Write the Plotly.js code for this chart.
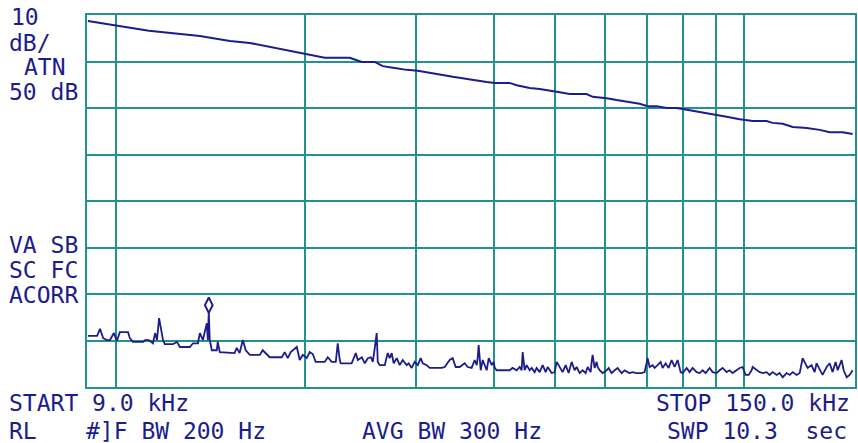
<!DOCTYPE html>
<html>
<head>
<meta charset="utf-8">
<script src="https://cdn.plot.ly/plotly-3.0.1.min.js"></script>
<style>
html,body{margin:0;padding:0;background:#ffffff;}
#chart{width:858px;height:443px;}
</style>
</head>
<body>
<div id="chart"></div>
<script>
// Frequency axis (kHz), log scale, gridlines every decade step
const startFreq = 9.0;
const stopFreq = 150.0;
const gridFreqs = [10, 20, 30, 40, 50, 60, 70, 80, 90, 100];

// Upper trace (dB, relative to top graticule line)
const upperFreq = [9.03, 9.44, 10.04, 11.29, 13.61, 15.19, 16.34, 18.17, 20.06, 20.58, 21.50, 23.56, 24.63, 25.83, 26.59, 27.78, 29.03, 30.23, 31.58, 33.12, 34.36, 36.17, 38.92, 40.08, 42.32, 43.43, 45.55, 47.25, 49.56, 50.84, 52.74, 56.12, 57.37, 60.39, 62.64, 65.69, 68.15, 70.17, 72.52, 75.23, 78.04, 79.77, 82.74, 85.84, 90.35, 93.72, 98.29, 103.1, 108.5, 110.9, 115.1, 119.4, 125.7, 131.8, 136.7, 143.4, 148.7];
const upperLevel = [-1.3, -1.7, -2.2, -3.4, -4.5, -5.6, -6.0, -7.3, -8.4, -8.8, -9.2, -9.2, -10.1, -10.1, -11.0, -11.4, -11.8, -12.0, -12.5, -12.9, -13.3, -13.8, -14.4, -14.6, -14.6, -15.1, -15.7, -15.9, -16.3, -16.6, -17.0, -17.0, -17.6, -17.9, -18.3, -18.7, -19.1, -19.6, -19.6, -20.0, -20.0, -20.2, -20.6, -21.1, -21.5, -21.9, -22.4, -22.8, -22.8, -23.2, -23.4, -24.1, -24.3, -24.7, -25.2, -25.2, -25.6];

// Lower (noise) trace
const lowerFreq = [9.03,9.34,9.44,9.55,9.68,9.79,9.93,10.04,10.15,10.46,10.53,10.65,11.06,11.13,11.29,11.46,11.55,11.63,11.72,11.80,11.89,11.97,12.33,12.51,12.65,13.12,13.27,13.51,13.61,13.76,13.86,13.96,14.01,14.06,14.11,14.22,14.48,14.53,14.64,15.45,15.58,15.74,15.93,16.10,16.34,16.95,17.13,17.39,17.58,18.37,18.57,18.78,18.98,19.41,19.62,19.84,20.13,20.35,20.58,20.80,21.50,21.74,22.06,22.39,22.55,22.72,22.80,23.73,24.09,24.27,24.63,24.90,25.18,25.46,25.64,25.83,26.01,26.11,26.30,26.79,27.08,27.28,27.48,27.68,27.99,28.30,28.61,29.03,29.24,29.57,29.89,30.23,30.56,30.79,31.24,31.58,33.00,33.37,33.98,34.36,34.74,35.25,35.90,36.30,36.83,37.24,37.52,37.65,37.79,38.07,38.35,38.92,39.21,39.64,39.93,40.08,40.37,42.32,42.79,43.43,43.91,44.23,44.40,44.72,45.05,45.55,45.88,46.39,46.73,47.25,47.77,48.30,48.66,49.37,49.92,50.29,50.84,51.40,51.97,52.54,53.12,53.71,54.11,54.70,55.31,55.92,56.33,56.96,57.16,57.37,57.79,58.22,58.43,58.86,59.51,60.39,60.83,61.50,62.18,62.87,63.79,64.50,65.21,65.69,66.42,67.40,68.64,69.40,70.17,70.69,71.47,71.99,72.79,73.59,74.14,74.96,75.79,76.62,77.47,78.33,79.19,79.77,80.95,81.84,82.74,83.97,84.90,85.84,86.78,88.06,89.03,90.35,91.35,92.35,93.72,94.75,95.80,97.22,98.29,99.37,100.5,101.6,102.7,103.1,104.6,105.8,107.0,108.5,109.7,110.9,112.6,113.8,115.1,116.8,118.1,119.4,121.1,122.5,123.8,125.2,126.1,127.9,129.4,130.3,131.8,133.2,135.2,136.7,138.2,139.7,140.8,142.8,143.9,145.5,147.1,148.7];
const lowerLevel = [-69.0,-69.0,-67.5,-69.5,-69.9,-69.9,-68.4,-70.1,-68.2,-68.2,-69.5,-70.3,-70.3,-69.9,-69.9,-70.6,-68.4,-69.9,-65.2,-67.3,-69.9,-70.8,-70.8,-70.3,-71.4,-71.4,-70.6,-70.6,-68.4,-69.9,-68.2,-66.3,-69.9,-63.9,-69.9,-72.1,-72.1,-70.3,-72.5,-72.7,-71.6,-72.7,-69.9,-72.1,-73.1,-73.1,-72.1,-73.1,-73.6,-73.6,-72.5,-73.8,-72.5,-71.4,-74.2,-73.1,-73.8,-72.5,-72.9,-74.6,-74.6,-73.6,-74.6,-74.6,-70.6,-74.2,-74.9,-74.9,-72.7,-74.2,-73.6,-74.9,-73.8,-73.6,-74.6,-71.6,-68.4,-74.6,-75.3,-75.3,-72.7,-73.8,-72.7,-74.9,-73.8,-75.3,-74.2,-75.3,-74.9,-75.9,-74.6,-75.3,-73.8,-74.9,-75.3,-75.9,-75.9,-75.7,-74.2,-73.8,-75.7,-75.7,-74.9,-75.7,-75.9,-74.2,-75.3,-73.8,-71.0,-76.4,-74.2,-76.4,-73.8,-75.3,-74.6,-75.9,-76.4,-76.4,-75.9,-76.4,-75.7,-76.4,-72.5,-76.4,-75.3,-76.4,-75.9,-76.8,-75.9,-76.8,-75.3,-76.8,-75.7,-77.0,-76.8,-74.6,-75.7,-76.8,-75.3,-77.0,-74.6,-76.4,-75.7,-77.0,-76.4,-77.0,-75.7,-76.8,-74.6,-73.1,-75.9,-74.6,-75.7,-76.4,-77.0,-76.4,-75.9,-77.0,-76.4,-75.9,-77.0,-76.4,-76.8,-77.0,-76.8,-77.0,-77.0,-76.8,-73.8,-75.7,-75.3,-75.9,-75.3,-74.6,-75.9,-74.9,-75.9,-74.2,-75.7,-74.2,-76.8,-77.0,-75.9,-76.8,-75.9,-76.8,-77.0,-76.4,-77.0,-75.9,-76.8,-77.0,-76.4,-75.9,-76.8,-76.4,-77.0,-76.4,-75.9,-75.7,-77.4,-77.4,-76.4,-75.7,-76.4,-76.8,-77.0,-76.8,-77.4,-76.8,-77.4,-77.0,-77.9,-77.0,-77.4,-76.8,-77.4,-77.0,-73.8,-75.3,-75.9,-75.3,-76.8,-74.9,-76.4,-77.4,-75.7,-74.9,-76.8,-74.6,-76.4,-74.2,-76.4,-77.9,-77.4,-76.4];

// Marker on the peak
const markerFreq = [14.06];
const markerLevel = [-62.4];

// Screen labels
const labelTexts = ["10", "dB/", "ATN", "50 dB", "VA SB", "SC FC", "ACORR",
  "START 9.0 kHz", "RL", "#]F BW 200 Hz", "AVG BW 300 Hz", "STOP 150.0 kHz", "SWP 10.3  sec"];
const labelPx = [10, 8, 23, 8, 8, 8, 8, 8, 8, 85, 361, 655, 666];
const labelPy = [17, 43, 67, 92, 245, 270, 295, 403, 431, 431, 431, 403, 431];

const ink = '#1c1c8e';
const teal = '#23918c';
const plotL = 87, plotR = 855, plotT = 15, plotB = 387;

const annotations = labelTexts.map((t, i) => ({
  text: t,
  xref: 'paper', yref: 'paper',
  x: (labelPx[i] - plotL) / (plotR - plotL),
  y: (plotB - labelPy[i]) / (plotB - plotT),
  xanchor: 'left', yanchor: 'middle',
  showarrow: false,
  borderpad: 0,
  font: {family: 'DejaVu Sans Mono, Liberation Mono, monospace', size: 23, color: ink}
}));

const traces = [
  {x: upperFreq, y: upperLevel, type: 'scatter', mode: 'lines',
   line: {color: ink, width: 2}, hoverinfo: 'skip'},
  {x: lowerFreq, y: lowerLevel, type: 'scatter', mode: 'lines',
   line: {color: ink, width: 1.8}, hoverinfo: 'skip'},
  {x: markerFreq, y: markerLevel, type: 'scatter', mode: 'markers',
   marker: {symbol: 'diamond-tall-open', size: 11, color: ink, line: {color: ink, width: 2}},
   hoverinfo: 'skip'}
];

const layout = {
  width: 858, height: 443,
  paper_bgcolor: '#ffffff', plot_bgcolor: '#ffffff',
  margin: {l: plotL, r: 858 - plotR, t: plotT, b: 443 - plotB, pad: 0},
  showlegend: false,
  xaxis: {
    type: 'log',
    range: [Math.log10(startFreq), Math.log10(stopFreq)],
    tickvals: gridFreqs, showticklabels: false, ticks: '',
    showgrid: true, gridcolor: teal, gridwidth: 2,
    showline: true, mirror: true, linecolor: teal, linewidth: 2,
    zeroline: false, fixedrange: true
  },
  yaxis: {
    range: [-80, 0], dtick: 10, tick0: 0,
    showticklabels: false, ticks: '',
    showgrid: true, gridcolor: teal, gridwidth: 2,
    showline: true, mirror: true, linecolor: teal, linewidth: 2,
    zeroline: false, fixedrange: true
  },
  annotations: annotations
};

Plotly.newPlot('chart', traces, layout, {staticPlot: true, displayModeBar: false});
</script>
</body>
</html>
